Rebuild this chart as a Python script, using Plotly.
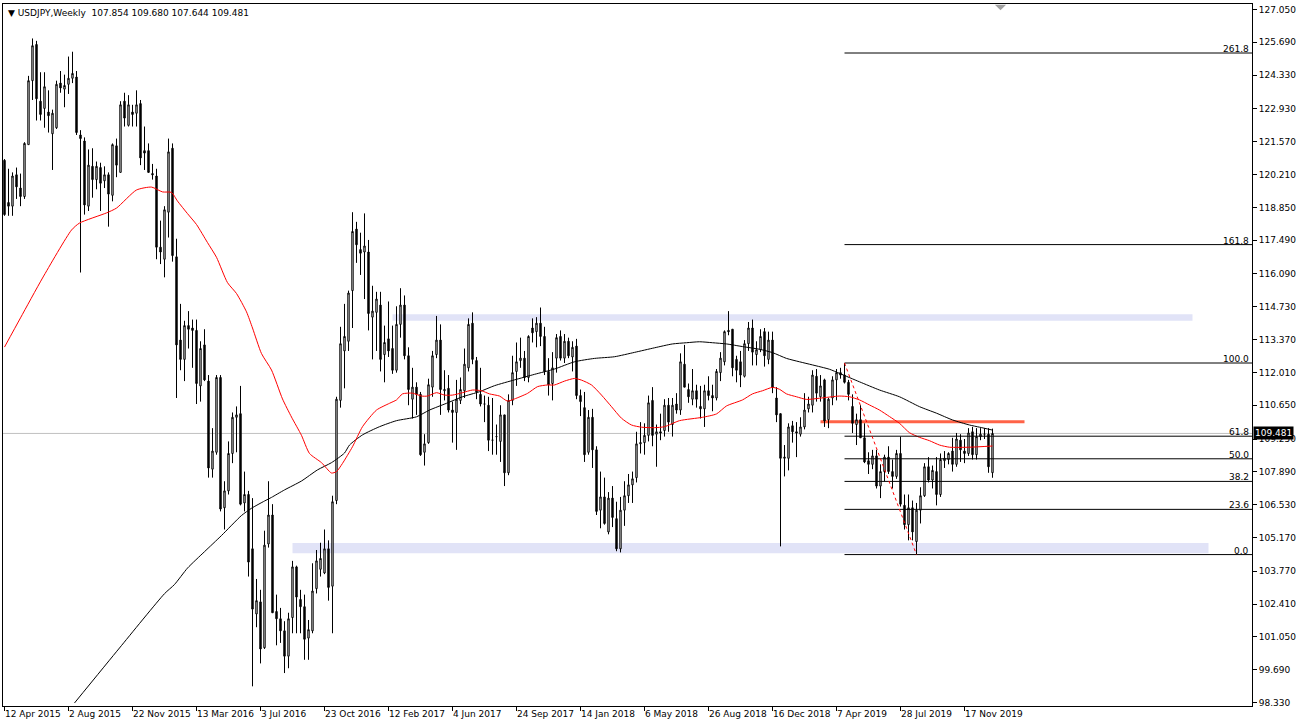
import plotly.graph_objects as go

# ---------------- data ----------------
opens = [
120.80,119.05,118.90,120.20,119.65,119.30,121.45,124.10,125.60,123.25,
122.95,122.80,121.90,122.15,124.00,123.75,123.95,124.20,124.25,121.85,
121.60,118.90,120.55,120.00,120.50,119.95,120.20,119.35,121.40,120.30,
123.25,122.25,122.80,122.75,123.15,121.20,121.20,120.25,120.15,117.20,
116.70,118.65,121.30,116.80,113.35,112.55,113.95,113.85,113.75,111.45,
113.15,111.65,108.00,108.70,111.80,106.40,107.10,108.65,110.15,110.30,
106.60,106.95,104.70,102.00,102.50,100.60,104.90,106.10,102.10,101.80,
101.30,100.25,101.85,103.95,102.60,102.30,101.00,101.30,103.05,103.85,
103.70,104.70,103.15,106.70,110.85,112.90,113.30,115.40,117.95,117.10,
117.00,117.00,114.30,114.50,114.80,112.75,113.40,113.00,112.10,114.00,
114.80,112.70,110.90,111.40,111.10,108.70,109.10,111.40,112.75,113.35,
111.25,111.35,110.45,110.35,110.85,111.25,112.20,114.05,112.50,111.10,
110.70,110.65,109.20,109.35,109.15,110.25,107.85,110.85,112.05,112.50,
112.60,111.80,113.85,113.70,114.05,113.50,112.05,111.55,112.60,113.50,
112.60,113.30,112.65,113.10,111.05,110.55,108.70,110.15,108.80,106.30,
106.85,105.40,106.80,105.95,104.70,106.30,106.90,107.35,107.65,109.05,
109.10,109.40,110.85,109.45,109.55,109.60,110.65,109.85,110.70,110.45,
112.35,111.30,110.90,111.25,110.60,110.50,111.25,111.05,110.95,112.00,
112.45,113.75,113.80,112.55,112.45,111.85,113.20,113.85,112.75,112.95,
113.70,112.55,113.35,110.95,110.30,108.45,108.45,109.80,109.55,109.45,
109.75,110.50,110.65,111.85,111.00,111.70,110.05,110.95,111.70,112.00,
111.90,111.60,110.60,109.85,110.05,109.30,108.35,108.20,108.55,107.30,
107.90,108.50,107.90,107.70,108.65,106.50,105.70,106.40,105.00,106.30,
106.90,108.10,107.55,107.90,106.95,108.35,108.40,108.75,108.20,109.20,
108.75,108.65,109.55,108.60,109.35,109.45,109.45,107.854]

highs = [
120.85,120.45,120.30,120.50,120.25,121.55,124.30,125.85,125.75,124.45,
124.45,123.70,122.90,124.10,124.50,124.35,125.10,125.30,124.50,122.05,
121.75,121.25,121.30,120.75,120.70,120.55,120.30,121.50,121.70,123.25,
123.60,123.50,123.10,123.70,123.30,122.20,121.50,120.65,120.45,118.30,
118.90,121.70,121.50,117.55,114.85,114.15,114.55,114.20,114.20,113.30,
113.80,111.90,109.70,111.90,111.90,107.50,109.15,110.35,110.60,111.45,
107.90,107.10,106.80,103.45,103.00,105.45,107.50,106.55,102.80,102.25,
101.70,102.05,104.20,104.00,103.00,102.80,101.75,104.10,104.65,104.95,
105.50,105.05,106.90,111.00,113.90,114.85,115.40,118.65,118.25,117.80,
118.60,117.50,115.60,115.35,115.35,113.95,114.95,113.95,114.75,115.50,
115.20,113.05,112.20,111.60,111.20,109.45,111.75,112.90,114.35,114.00,
112.10,111.90,110.80,111.70,111.80,113.00,114.25,114.50,112.65,112.20,
111.05,111.00,110.95,109.85,110.65,110.25,111.10,112.70,113.25,113.45,
112.90,113.55,114.25,114.30,114.70,113.90,112.60,112.85,113.60,113.75,
113.60,113.45,113.30,113.40,111.30,111.20,110.45,110.50,108.95,107.90,
107.65,107.05,107.30,106.65,106.85,107.50,107.80,107.90,109.55,109.95,
109.90,111.05,111.40,109.85,110.30,110.90,110.95,110.95,111.15,112.80,
113.15,111.55,112.15,111.50,111.45,111.50,111.85,111.50,112.15,112.85,
113.75,114.55,113.80,112.70,112.90,113.35,114.10,114.20,113.30,113.80,
113.85,113.70,113.70,111.40,110.30,109.00,109.90,110.00,109.95,110.15,
111.15,111.00,112.10,112.15,111.90,111.75,110.95,111.85,112.15,112.20,
112.40,111.70,111.10,110.30,110.65,109.90,108.70,108.80,108.80,108.20,
108.60,108.95,108.40,108.80,109.35,106.95,106.95,106.70,106.60,107.25,
108.25,108.50,108.15,108.50,108.65,108.75,108.70,109.30,109.50,109.45,
109.25,109.70,109.75,109.70,109.70,109.70,109.70,109.680]

lows = [
118.50,118.50,118.50,119.20,118.90,119.20,121.45,123.30,122.45,122.45,
122.15,121.95,120.40,122.10,123.60,123.00,123.55,124.00,121.85,116.15,
118.55,118.70,119.25,119.60,118.70,119.65,118.05,119.10,120.10,120.30,
122.20,122.20,122.20,122.20,120.60,120.40,120.30,120.00,116.70,116.50,
115.95,117.60,116.60,110.95,112.10,111.65,113.00,112.20,110.70,110.80,
111.65,107.65,107.65,108.60,106.25,105.50,106.95,108.25,108.70,106.50,
106.25,103.55,99.00,101.45,99.95,100.55,104.75,102.05,100.70,100.80,
99.55,99.75,101.20,101.20,101.20,100.10,100.10,101.20,102.85,103.55,
103.65,102.55,101.20,106.55,110.55,111.35,112.90,113.85,116.55,116.05,
115.05,113.75,112.55,112.90,112.05,111.60,112.65,111.95,112.00,113.45,
112.55,110.65,110.10,110.25,108.55,108.15,109.05,111.00,112.60,110.25,
110.85,110.35,109.10,108.80,110.70,110.95,112.05,112.35,110.90,110.60,
109.95,108.75,108.60,108.60,108.30,107.30,107.75,110.65,111.45,112.20,
111.65,111.60,113.25,113.05,113.10,111.90,111.05,110.85,112.00,112.50,
112.40,112.60,112.05,110.90,110.20,108.30,108.60,108.05,106.10,105.55,
105.70,105.30,105.60,104.60,104.55,105.65,106.60,106.60,107.45,108.65,
108.60,109.15,108.95,108.10,109.20,109.35,109.55,109.35,110.30,110.25,
111.40,110.75,110.65,110.55,110.10,109.75,110.85,110.40,110.85,111.65,
112.30,113.55,111.85,111.60,111.40,111.80,112.90,112.30,112.30,112.85,
112.25,112.35,111.15,109.95,104.80,107.70,107.95,109.10,108.50,109.35,
109.65,110.35,110.35,110.80,110.80,109.75,109.70,110.65,110.85,111.75,
111.55,110.85,109.50,109.00,109.30,108.25,107.80,108.00,107.20,106.80,
107.50,107.80,107.20,107.60,106.45,105.50,105.05,105.05,104.45,105.75,
106.85,107.45,107.20,106.50,106.85,108.05,108.20,107.90,108.10,108.30,
108.25,108.55,108.40,108.40,109.20,109.25,107.85,107.644]

closes = [
118.55,118.90,120.15,119.70,119.30,121.50,124.10,125.55,123.35,122.70,
123.85,122.65,122.75,123.95,123.80,123.90,124.20,124.40,121.95,121.70,
118.95,120.60,120.00,120.55,119.85,120.20,119.40,121.45,120.60,123.10,
122.55,123.10,122.70,123.10,120.90,121.10,120.30,120.20,117.20,117.00,
118.75,121.15,116.85,113.15,112.55,113.95,113.80,113.75,111.55,113.00,
111.70,108.05,108.75,111.80,106.35,107.10,108.65,110.15,110.25,106.55,
106.95,104.15,102.20,102.55,100.55,104.85,106.10,102.05,101.80,101.30,
100.25,101.80,103.95,102.70,102.30,100.95,101.35,102.95,104.20,104.30,
104.70,103.10,106.65,110.90,113.20,113.50,115.30,117.85,117.30,116.95,
117.25,114.45,114.55,115.05,112.55,113.25,112.90,112.10,114.00,114.80,
112.70,111.30,111.40,111.10,108.60,109.05,111.50,112.70,113.35,111.30,
111.30,110.45,110.35,110.90,111.30,112.35,114.00,112.55,111.20,110.70,
110.70,109.20,109.20,109.35,110.25,107.85,110.85,112.00,112.45,112.60,
111.80,113.50,113.65,114.05,113.50,112.05,111.50,112.20,113.45,112.60,
113.30,112.70,113.05,111.05,110.80,108.60,110.15,108.80,106.25,106.85,
105.75,106.80,106.00,104.70,106.30,106.90,107.35,107.60,109.05,109.10,
109.40,110.75,109.40,109.55,109.50,110.65,109.95,110.65,110.45,112.45,
111.40,111.00,111.25,110.90,110.50,111.25,111.05,110.95,112.05,112.60,
113.70,113.70,112.20,112.10,111.90,113.20,113.85,112.85,112.95,113.50,
112.70,113.35,111.40,110.25,108.45,108.50,109.75,109.55,109.50,109.75,
110.45,110.70,111.90,111.15,111.45,110.00,110.90,111.70,112.00,111.90,
111.60,111.10,109.90,110.05,109.30,108.30,108.20,108.55,107.30,107.90,
108.50,107.90,107.70,108.65,106.55,105.70,106.40,105.40,106.30,106.90,
108.10,107.55,107.95,106.95,108.40,108.45,108.65,108.20,109.25,108.80,
108.65,109.50,108.60,109.35,109.45,109.45,108.10,109.481]

# bar index of each date label (one label every 16 weekly bars)
date_label_idx = [0, 16, 32, 48, 64, 80, 96, 112, 128, 144, 160, 176, 192, 208, 224, 240]
date_labels = ["12 Apr 2015", "2 Aug 2015", "22 Nov 2015", "13 Mar 2016", "3 Jul 2016",
               "23 Oct 2016", "12 Feb 2017", "4 Jun 2017", "24 Sep 2017", "14 Jan 2018",
               "6 May 2018", "26 Aug 2018", "16 Dec 2018", "7 Apr 2019", "28 Jul 2019",
               "17 Nov 2019"]

price_ticks = [127.050, 125.690, 124.330, 122.930, 121.570, 120.210, 118.850, 117.490,
               116.090, 114.730, 113.370, 112.010, 110.650, 109.250, 107.890, 106.530,
               105.170, 103.770, 102.410, 101.050, 99.690, 98.330]

# red moving average (bar index, price)
red_ma_idx = [0, 4, 9.5, 16.75, 18.75, 25.5, 28, 33, 36.75, 39.5, 41.75, 43.25, 45.75, 48,
              50.75, 53, 55.75, 58, 60.5, 62, 64.25, 66.75, 69.5, 71.75, 74.25, 76.25, 79.25,
              81.75, 83, 84.5, 87, 89.5, 93, 96.25, 98, 99.5, 102, 104.25, 105.75, 108, 110,
              112, 114.5, 117, 119.25, 121.25, 123.75, 125.75, 127.5, 130.75, 133.25, 135.75,
              137.5, 140, 142.5, 144.25, 146.75, 149.25, 151.75, 154.25, 156.75, 159.25, 162.5,
              165, 168.75, 174.5, 178, 180.5, 184.5, 187, 189.5, 192, 193.75, 195.5, 198, 200.5,
              203.75, 208.75, 211.25, 213.75, 216.25, 218.75, 221.25, 223.75, 226.25, 228.75,
              231.25, 233.75, 236.25, 241.25, 247]
red_ma_val = [113.06, 114.27, 115.92, 117.91, 118.20, 118.62, 118.82, 119.57, 119.69, 119.49,
              119.47, 119.11, 118.59, 118.14, 117.39, 116.78, 115.73, 115.28, 114.52, 113.85,
              112.79, 112.11, 110.91, 110.16, 109.40, 108.65, 108.27, 107.84, 107.90, 108.24,
              108.93, 109.76, 110.45, 110.73, 110.87, 111.12, 111.15, 111.03, 111.03, 111.17,
              111.07, 111.07, 111.17, 111.28, 111.25, 111.12, 111.03, 110.82, 110.91, 111.14,
              111.42, 111.49, 111.49, 111.65, 111.76, 111.69, 111.49, 111.07, 110.59, 110.11,
              109.83, 109.74, 109.72, 109.76, 110.01, 110.15, 110.29, 110.62, 110.87, 111.12,
              111.25, 111.39, 111.31, 111.12, 111.00, 110.89, 110.94, 111.03, 111.00, 110.87,
              110.66, 110.45, 110.18, 109.90, 109.51, 109.32, 109.18, 109.00, 108.91, 108.91,
              108.96]

# black moving average (bar index, price)
black_ma_idx = [17.5, 28.75, 40, 42.5, 45.75, 50, 54.25, 59.25, 61.75, 65, 66.75, 70, 74.25,
                78.25, 81.75, 85, 86.25, 89.5, 93.75, 98, 103, 106.25, 110.5, 114.5, 118.75,
                122.5, 127.5, 132.5, 137.5, 142.5, 147.5, 152.5, 157.5, 162.5, 167, 170.5,
                173.75, 177, 180.5, 184.5, 188.75, 192, 195.5, 198.75, 202, 206.25, 208.75,
                213.75, 218.75, 223.75, 228.75, 233, 237, 241.25, 243.75, 247]
black_ma_val = [98.31, 100.59, 102.84, 103.22, 103.90, 104.58, 105.25, 106.08, 106.38, 106.68,
                106.83, 107.14, 107.51, 107.97, 108.27, 108.67, 109.00, 109.42, 109.76, 110.01,
                110.17, 110.45, 110.73, 111.00, 111.21, 111.46, 111.70, 111.93, 112.15, 112.45,
                112.59, 112.66, 112.84, 113.03, 113.19, 113.24, 113.28, 113.24, 113.19, 113.08,
                112.97, 112.83, 112.59, 112.45, 112.32, 112.14, 111.97, 111.62, 111.28, 111.00,
                110.59, 110.32, 110.04, 109.83, 109.74, 109.62]

# zones (price bottom, price top, start bar, end bar)
zone_lows = [114.15, 104.52]
zone_highs = [114.42, 104.94]
zone_start = [97, 72]
zone_end = [297, 301]

resistance_level = 109.97
resistance_start, resistance_end = 204, 255

fib_low, fib_high = 104.46, 112.40
fib_low_bar, fib_high_bar = 228, 210
fib_levels = [0.0, 23.6, 38.2, 50.0, 61.8, 100.0, 161.8, 261.8]

last_price = 109.481
header = "USDJPY,Weekly  107.854 109.680 107.644 109.481"

# ---------------- figure ----------------
x_idx = list(range(len(opens)))
X0, X1 = -0.375, 311.875
Y0, Y1 = 98.185, 127.278

fig = go.Figure()

fig.add_trace(go.Scatter(x=black_ma_idx, y=black_ma_val, mode="lines",
                         line=dict(color="black", width=1, shape="spline", smoothing=0.6),
                         hoverinfo="skip", showlegend=False))
fig.add_trace(go.Scatter(x=red_ma_idx, y=red_ma_val, mode="lines",
                         line=dict(color="#FF0000", width=1, shape="spline", smoothing=0.6),
                         hoverinfo="skip", showlegend=False))

fig.add_trace(go.Candlestick(
    x=x_idx, open=opens, high=highs, low=lows, close=closes,
    increasing=dict(line=dict(color="black", width=1), fillcolor="white"),
    decreasing=dict(line=dict(color="black", width=1), fillcolor="black"),
    whiskerwidth=0, showlegend=False))

shapes = []
# current price line
shapes.append(dict(type="line", xref="paper", yref="y", x0=0, x1=1, y0=last_price, y1=last_price,
                   line=dict(color="#C0C0C0", width=1), layer="below"))
# lavender zones
for lo, hi, s, e in zip(zone_lows, zone_highs, zone_start, zone_end):
    shapes.append(dict(type="rect", xref="x", yref="y", x0=s, x1=e, y0=lo, y1=hi,
                       fillcolor="#E1E3F7", line=dict(width=0), layer="below"))
# red horizontal level
shapes.append(dict(type="line", xref="x", yref="y", x0=resistance_start, x1=resistance_end,
                   y0=resistance_level, y1=resistance_level,
                   line=dict(color="#FF6347", width=3), layer="below"))
# fibonacci lines
rng = fib_high - fib_low
for lv in fib_levels:
    p = fib_low + rng * lv / 100.0
    shapes.append(dict(type="line", xref="x", yref="y", x0=fib_high_bar, x1=X1, y0=p, y1=p,
                       line=dict(color="black", width=1)))
# fib trend line (dotted)
shapes.append(dict(type="line", xref="x", yref="y", x0=fib_high_bar, x1=fib_low_bar,
                   y0=fib_high, y1=fib_low, line=dict(color="#FF0000", width=1, dash="dot")))
# chart-shift marker at top
shapes.append(dict(type="path", xref="x", yref="paper",
                   path="M 247.6 0.999 L 250.4 0.999 L 249 0.991 Z",
                   fillcolor="#A0A0A0", line=dict(width=0)))

annotations = []
for idx, lab in zip(date_label_idx, date_labels):
    annotations.append(dict(x=idx, y=0, xref="x", yref="paper", text=lab, showarrow=False,
                            xanchor="left", yanchor="top", xshift=-2, yshift=-1,
                            font=dict(family="DejaVu Sans", size=9, color="black")))
for lv in fib_levels:
    p = fib_low + rng * lv / 100.0
    annotations.append(dict(x=1, y=p, xref="paper", yref="y", text=f"{lv:.1f}", showarrow=False,
                            xanchor="right", yanchor="bottom", xshift=-1, yshift=-3,
                            font=dict(family="DejaVu Sans", size=9, color="black")))
annotations.append(dict(x=1, y=last_price, xref="paper", yref="y", text=f"{last_price:.3f}",
                        showarrow=False, xanchor="left", yanchor="middle", xshift=1,
                        bgcolor="black", borderpad=1,
                        font=dict(family="DejaVu Sans", size=9, color="white")))
annotations.append(dict(x=0, y=1, xref="paper", yref="paper", text="\u25BC " + header,
                        showarrow=False, xanchor="left", yanchor="top", xshift=3, yshift=-2,
                        font=dict(family="DejaVu Sans", size=9, color="black")))

fig.update_layout(
    width=1301, height=728, autosize=False,
    margin=dict(l=3, r=49, t=4, b=22, pad=0),
    paper_bgcolor="white", plot_bgcolor="white",
    boxgap=0.5,
    shapes=shapes, annotations=annotations,
    showlegend=False,
    xaxis=dict(range=[X0, X1], rangeslider=dict(visible=False), showgrid=False, zeroline=False,
               showline=True, linecolor="black", linewidth=1, mirror=True,
               tickmode="array", tickvals=date_label_idx, ticks="outside", ticklen=4,
               tickcolor="black", showticklabels=False, fixedrange=True),
    yaxis=dict(range=[Y0, Y1], side="right", showgrid=False, zeroline=False,
               showline=True, linecolor="black", linewidth=1, mirror=True,
               tickmode="array", tickvals=price_ticks,
               ticktext=[f"{v:.3f}" for v in price_ticks],
               ticks="outside", ticklen=4, tickcolor="black",
               tickfont=dict(family="DejaVu Sans", size=9, color="black"), fixedrange=True),
)

fig.write_html("out.html", config={"displayModeBar": False},
               post_script="document.body.style.margin='0';")
